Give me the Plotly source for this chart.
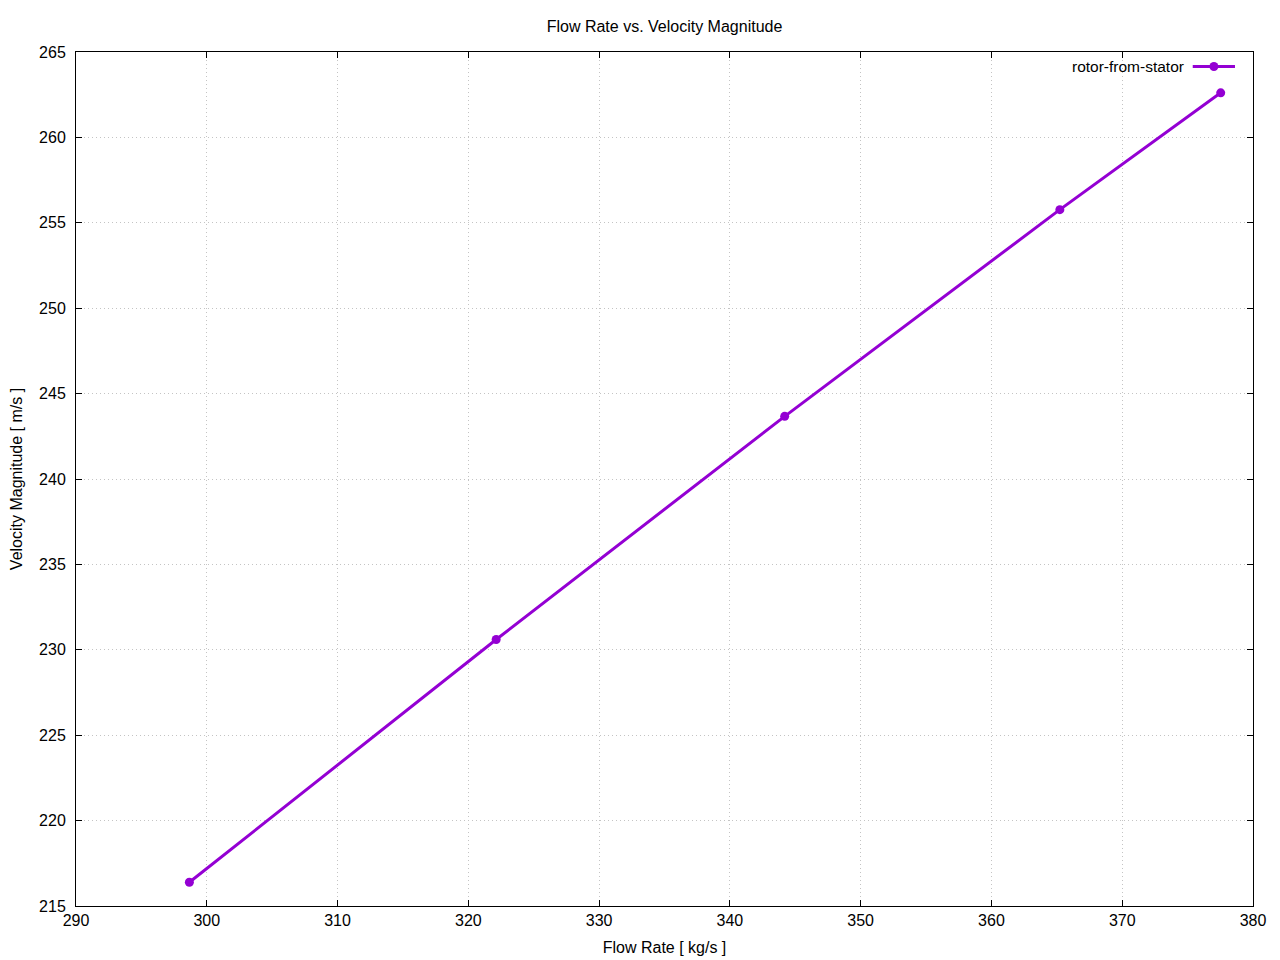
import plotly.graph_objects as go

flow_rate = [298.67, 322.13, 344.19, 365.23, 377.53]
velocity = [216.39, 230.60, 243.67, 255.77, 262.61]
series_name = "rotor-from-stator"
x_ticks = [290, 300, 310, 320, 330, 340, 350, 360, 370, 380]
y_ticks = [215, 220, 225, 230, 235, 240, 245, 250, 255, 260, 265]

color = "#9400D3"
font = "Liberation Sans, Arial, sans-serif"

fig = go.Figure()
fig.add_trace(go.Scatter(
    x=flow_rate, y=velocity, mode="lines+markers", name=series_name,
    line=dict(color=color, width=3),
    marker=dict(color=color, size=9),
    showlegend=False,
))

axis_common = dict(
    showline=True, linecolor="black", linewidth=1, mirror="ticks",
    ticks="inside", ticklen=6, tickcolor="black", tickwidth=1,
    showgrid=True, gridcolor="#c4c4c4", griddash="1px,3px", gridwidth=1,
    zeroline=False, tickfont=dict(family=font, size=16, color="black"),
)

W, H = 1272, 952
fig.update_layout(
    width=W, height=H,
    margin=dict(l=68, r=27, t=44, b=54, autoexpand=False),
    paper_bgcolor="white", plot_bgcolor="white",
    title=dict(text="Flow Rate vs. Velocity Magnitude", x=0.5, xanchor="center",
               xref="paper",
               y=1 - 18/H, yanchor="middle",
               font=dict(family=font, size=16, color="black")),
    xaxis=dict(range=[290, 380], tickvals=x_ticks, ticktext=[str(v) for v in x_ticks],
               title=dict(text="Flow Rate [ kg/s ]", font=dict(family=font, size=16, color="black"),
                          standoff=13),
               **axis_common),
    yaxis=dict(range=[215, 265], tickvals=y_ticks, ticktext=[str(v) for v in y_ticks],
               ticklabelstandoff=6,
               title=dict(text="Velocity Magnitude [ m/s ]", font=dict(family=font, size=16, color="black"),
                          standoff=12),
               **axis_common),
    showlegend=False,
)

# gnuplot-style legend: label on the left, sample on the right
ly = 0.983
fig.add_annotation(xref="paper", yref="paper", x=0.9428, y=ly, text=series_name,
                   showarrow=False, xanchor="right", yanchor="middle",
                   font=dict(family=font, size=15.5, color="black"))
fig.add_shape(type="line", xref="paper", yref="paper", x0=0.9488, x1=0.9847, y0=ly, y1=ly,
              line=dict(color=color, width=3))
fig.add_trace(go.Scatter(x=[0.9668], y=[ly], xaxis="x2", yaxis="y2", mode="markers",
                         marker=dict(color=color, size=9), showlegend=False, hoverinfo="skip"))
fig.update_layout(
    xaxis2=dict(overlaying="x", range=[0, 1], visible=False),
    yaxis2=dict(overlaying="y", range=[0, 1], visible=False),
)

fig.write_html("out.html")
